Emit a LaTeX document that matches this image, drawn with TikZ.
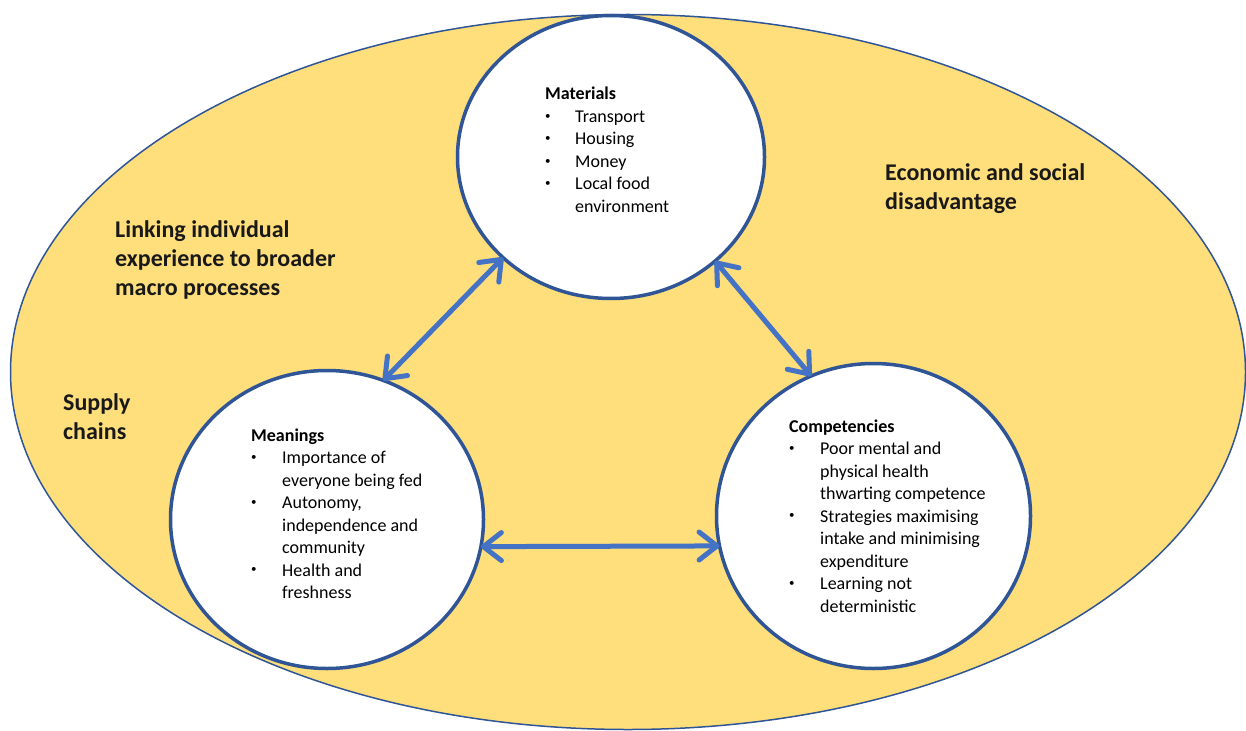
\documentclass[tikz,border=0pt]{standalone}
\usepackage{fontspec}
\setmainfont{Carlito}
\usetikzlibrary{shapes.geometric,arrows.meta}
\definecolor{gold}{HTML}{FFDE7C}
\definecolor{rim}{HTML}{2F5597}
\definecolor{arr}{HTML}{4472C4}
\newcommand{\bul}{\raisebox{0.18em}{\fontsize{11}{11}\selectfont\textbullet}}
\begin{document}
\begin{tikzpicture}[x=1pt,y=-1pt,
 oval/.style={ellipse, draw=rim, line width=3.5pt, fill=white, inner sep=0pt, outer sep=0pt},
 barb/.tip={Straight Barb[length=18pt,width=28pt,round]},
 twoway/.style={draw=arr, line width=5pt, barb-barb},
 body/.style={anchor=base west, inner sep=0pt, text=black, font=\fontsize{18}{22.5}\selectfont},
 head/.style={anchor=base west, inner sep=0pt, text=black!90, font=\fontsize{24}{29}\selectfont\bfseries},
]
\useasboundingbox (0,0) rectangle (1246,730);
\clip (0,0) rectangle (1246,730);
\node[ellipse, draw=rim, line width=1.5pt, fill=gold, minimum width=1235pt, minimum height=715pt, inner sep=0pt] (bg) at (628,372) {};
\node[oval, minimum width=307pt, minimum height=283pt] (mat) at (611,157) {};
\node[oval, minimum width=313pt, minimum height=298pt] (mean) at (327,519.5) {};
\node[oval, minimum width=314pt, minimum height=305pt] (comp) at (873.5,516) {};
\draw[twoway] (mean.68.8) -- (mat.223.4);
\draw[twoway] (mat.-45.5) -- (comp.114.8);
\draw[twoway] (mean.-10.4) -- (comp.191.7);
\node[body] (mattxt) at (545,100) {\begin{tabular}[t]{@{}p{30pt}@{}l@{}}\multicolumn{2}{@{}l@{}}{\textbf{Materials}}\\ \bul & Transport\\ \bul & Housing\\ \bul & Money\\ \bul & Local food\\ & environment\end{tabular}};
\node[body] (meantxt) at (251,441) {\begin{tabular}[t]{@{}p{31pt}@{}l@{}}\multicolumn{2}{@{}l@{}}{\textbf{Meanings}}\\ \bul & Importance of\\ & everyone being fed\\ \bul & Autonomy,\\ & independence and\\ & community\\ \bul & Health and\\ & freshness\end{tabular}};
\node[body] (comptxt) at (789,432) {\begin{tabular}[t]{@{}p{31pt}@{}l@{}}\multicolumn{2}{@{}l@{}}{\textbf{Competencies}}\\ \bul & Poor mental and\\ & physical health\\ & thwarting competence\\ \bul & Strategies maximising\\ & intake and minimising\\ & expenditure\\ \bul & Learning not\\ & deterministic\end{tabular}};
\node[head] (econ) at (885,180) {\begin{tabular}[t]{@{}l@{}}Economic and social\\ disadvantage\end{tabular}};
\node[head] (link) at (115,237) {\begin{tabular}[t]{@{}l@{}}Linking individual\\ experience to broader\\ macro processes\end{tabular}};
\node[head] (sup) at (63,410) {\begin{tabular}[t]{@{}l@{}}Supply\\ chains\end{tabular}};
\end{tikzpicture}
\end{document}
